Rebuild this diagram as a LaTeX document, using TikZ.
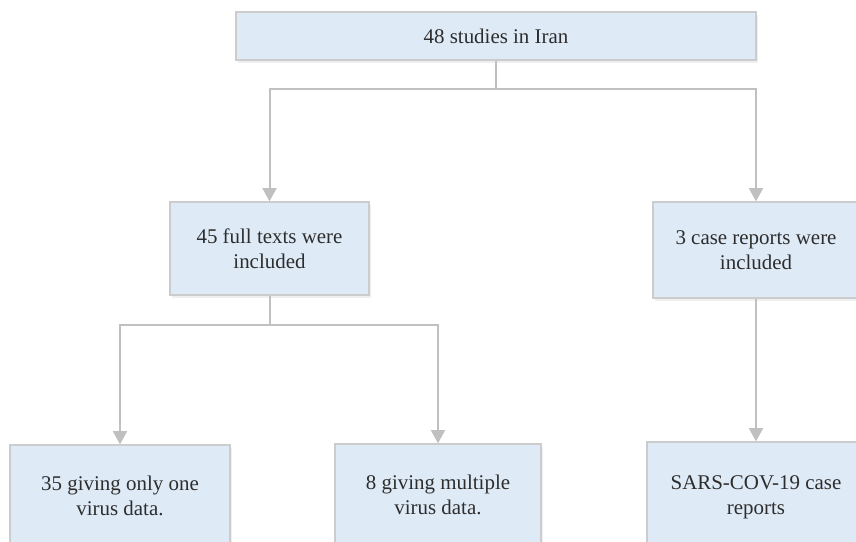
\documentclass[tikz,border=0pt]{standalone}
\usepackage{fontspec}
\setmainfont{Liberation Serif}
\usetikzlibrary{arrows.meta,shadows}

\definecolor{boxfill}{RGB}{222,234,246}
\definecolor{boxline}{RGB}{204,204,204}
\definecolor{linkgray}{RGB}{192,192,192}
\definecolor{txtgray}{RGB}{45,45,45}

\tikzset{
	studybox/.style={draw=boxline, line width=0.9pt, fill=boxfill, align=center, inner sep=0pt,
		text=txtgray, font=\fontsize{15.7}{18.8}\selectfont,
		drop shadow={shadow xshift=1.5pt, shadow yshift=-2.2pt, fill=boxfill!70!gray, opacity=0.3}},
	flowlink/.style={draw=linkgray, line width=1.5pt, -{Triangle[width=10.5pt,length=10pt]}}
}

\begin{document}
\begin{tikzpicture}[x=0.75pt,y=0.75pt,yscale=-1,xscale=1]
			%set diagram left start at 0, and has height of 542
			\useasboundingbox (0,0) rectangle (856,542);
			\clip (0,0) rectangle (856,542);
			
			%Shape: Rectangle [id:top]
			\node [studybox, minimum width=390pt, minimum height=36pt] (iran) at (496,36) {48 studies in Iran};
			%Shape: Rectangle [id:fulltexts]
			\node [studybox, minimum width=149.25pt, minimum height=69.75pt] (full) at (269.5,248.5) {45 full texts were\\included};
			%Shape: Rectangle [id:casereports]
			\node [studybox, minimum width=154.5pt, minimum height=72pt] (case) at (756,250) {3 case reports were\\included};
			%Shape: Rectangle [id:onevirus]
			\node [studybox, minimum width=165pt, minimum height=76.5pt] (one) at (120,496) {35 giving only one\\virus data.};
			%Shape: Rectangle [id:multivirus]
			\node [studybox, minimum width=154.5pt, minimum height=76.5pt] (multi) at (438,495) {8 giving multiple\\virus data.};
			%Shape: Rectangle [id:sars]
			\node [studybox, minimum width=163.5pt, minimum height=82.5pt] (sars) at (756,497) {SARS-COV-19 case\\reports};
			
			%Straight Lines [id:split top]
			\draw [flowlink] (iran.south) -- ++(0,28) -| (full.north);
			\draw [flowlink] (iran.south) -- ++(0,28) -| (case.north);
			%Straight Lines [id:split full texts]
			\draw [flowlink] (full.south) -- ++(0,29) -| (one.north);
			\draw [flowlink] (full.south) -- ++(0,29) -| (multi.north);
			%Straight Lines [id:case reports]
			\draw [flowlink] (case.south) -- (sars.north);
			
		\end{tikzpicture}
\end{document}
